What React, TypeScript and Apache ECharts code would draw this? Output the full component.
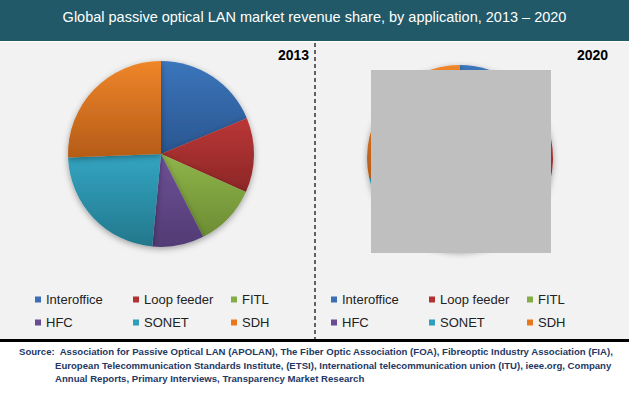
import React, { useEffect, useRef } from "react";
import * as echarts from "echarts";

const categories = ["Interoffice", "Loop feeder", "FITL", "HFC", "SONET", "SDH"];
const values2013 = [18.7, 13.0, 10.8, 9.0, 22.9, 25.6];
const values2020 = [18.5, 14.0, 11.0, 5.5, 22.5, 28.5];
const topColors = ["#3B75BB", "#BB3636", "#8FB54A", "#6D5196", "#33A5C2", "#EF8529"];
const bottomColors = ["#2A5690", "#8C2727", "#6C8C33", "#523B75", "#23778C", "#B55C18"];
const legendColors = ["#3A6FB5", "#B23131", "#83AD45", "#6A4C92", "#2F9DBC", "#E8781F"];
const titleText = "Global passive optical LAN market revenue share, by application, 2013 \u2013 2020";
const sourceLines = [
  "Source:  Association for Passive Optical LAN (APOLAN), The Fiber Optic Association (FOA), Fibreoptic Industry Association (FIA),",
  "European Telecommunication Standards Institute, (ETSI), International telecommunication union (ITU), ieee.org, Company",
  "Annual Reports, Primary Interviews, Transparency Market Research",
];

const FONT = "'Liberation Sans', Arial, Helvetica, sans-serif";

function sliceData(values: number[]) {
  return values.map((v, i) => ({
    name: categories[i],
    value: v,
    itemStyle: {
      color: new echarts.graphic.LinearGradient(0, 0, 0, 1, [
        { offset: 0, color: topColors[i] },
        { offset: 1, color: bottomColors[i] },
      ]),
    },
  }));
}

export default function App() {
  const ref = useRef<HTMLDivElement>(null);
  useEffect(() => {
    document.body.style.margin = "0";
    const chart = echarts.init(ref.current!, null, { renderer: "svg" });
    const legendData = categories.map((c, i) => ({ name: c, itemStyle: { color: legendColors[i] } }));
    const legendBase = {
      top: 293,
      width: 300,
      padding: 0,
      orient: "horizontal",
      icon: "rect",
      itemWidth: 6,
      itemHeight: 6,
      itemGap: 10,
      selectedMode: false,
      data: legendData,
      textStyle: { fontFamily: FONT, fontSize: 13, color: "#222", width: 77, lineHeight: 12 },
    };
    const pieBase = {
      type: "pie",
      radius: 93,
      startAngle: 90,
      clockwise: true,
      label: { show: false },
      labelLine: { show: false },
      emphasis: { disabled: true },
      itemStyle: {
        borderWidth: 0,
        shadowBlur: 6,
        shadowColor: "rgba(0,0,0,0.35)",
        shadowOffsetY: 2,
      },
    };
    const srcFont = `bold 9.6px ${FONT}`;
    chart.setOption({
      animation: false,
      backgroundColor: "#F2F2F2",
      title: [
        {
          text: titleText,
          left: "center",
          top: 4,
          textStyle: { color: "#FFFFFF", fontSize: 14.5, fontWeight: "normal", fontFamily: FONT },
        },
        {
          text: "2013",
          left: 273,
          top: 43,
          textStyle: { color: "#000", fontSize: 14, fontWeight: "bold", fontFamily: FONT },
        },
        {
          text: "2020",
          left: 572,
          top: 43,
          textStyle: { color: "#000", fontSize: 14, fontWeight: "bold", fontFamily: FONT },
        },
      ],
      legend: [
        { ...legendBase, left: 35 },
        { ...legendBase, left: 331 },
      ],
      series: [
        { ...pieBase, name: "2013", center: [161, 154], data: sliceData(values2013) },
        { ...pieBase, name: "2020", center: [460, 158], data: sliceData(values2020) },
      ],
      graphic: [
        { type: "rect", z: -1, shape: { x: 0, y: 0, width: 629, height: 41 }, style: { fill: "#215968" } },
        { type: "rect", z: -1, shape: { x: 0, y: 41, width: 629, height: 1 }, style: { fill: "#FFFFFF" } },
        { type: "rect", z: -1, shape: { x: 0, y: 339, width: 629, height: 58 }, style: { fill: "#FFFFFF" } },
        { type: "rect", z: 5, shape: { x: 0, y: 339, width: 629, height: 3 }, style: { fill: "#000000" } },
        {
          type: "line",
          z: 5,
          shape: { x1: 315, y1: 43, x2: 315, y2: 339 },
          style: { stroke: "#333333", lineWidth: 1.5, lineDash: [4, 3] },
        },
        { type: "rect", z: 50, shape: { x: 371, y: 70, width: 180, height: 183 }, style: { fill: "#BFBFBF" } },
        {
          type: "text", z: 5, x: 19, y: 351,
          style: { text: sourceLines[0], fill: "#1F3864", font: srcFont, textVerticalAlign: "middle" },
        },
        {
          type: "text", z: 5, x: 55, y: 365,
          style: { text: sourceLines[1], fill: "#1F3864", font: srcFont, textVerticalAlign: "middle" },
        },
        {
          type: "text", z: 5, x: 55, y: 378,
          style: { text: sourceLines[2], fill: "#1F3864", font: srcFont, textVerticalAlign: "middle" },
        },
      ],
    });
    return () => chart.dispose();
  }, []);
  return <div ref={ref} style={{ width: 629, height: 397 }} />;
}
